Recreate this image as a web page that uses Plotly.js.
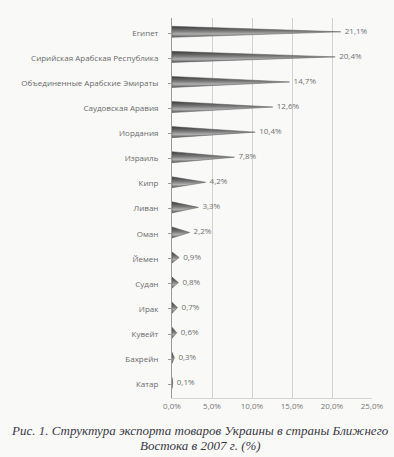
<!DOCTYPE html>
<html>
<head>
<meta charset="utf-8">
<script src="https://cdn.plot.ly/plotly-3.0.1.min.js"></script>
<style>html,body{margin:0;padding:0;background:#f9f9f8;}#chart{width:394px;height:457px;}</style>
</head>
<body>
<div id="chart"></div>
<script>
const countries = ["Египет","Сирийская Арабская Республика","Объединенные Арабские Эмираты","Саудовская Аравия","Иордания","Израиль","Кипр","Ливан","Оман","Йемен","Судан","Ирак","Кувейт","Бахрейн","Катар"];
const shares = [21.1, 20.4, 14.7, 12.6, 10.4, 7.8, 4.2, 3.3, 2.2, 0.9, 0.8, 0.7, 0.6, 0.3, 0.1];
const tickValsX = [0, 5, 10, 15, 20, 25];
const tickTextX = ["0,0%","5,0%","10,0%","15,0%","20,0%","25,0%"];

const fmt = v => '\u2002' + v.toFixed(1).replace('.', ',') + '%';
const idx = countries.map((c, i) => i);
const half = 0.22;

const traces = [];
countries.forEach((c, i) => {
  const v = shares[i];
  traces.push({
    type: 'scatter', mode: 'lines',
    x: [0, v, 0, 0], y: [i - half - 0.05, i - 0.05, i + half - 0.05, i - half - 0.05],
    fill: 'toself',
    fillgradient: {type: 'vertical', colorscale: [[0,'#5a5a5a'],[0.3,'#b0b0b0'],[0.55,'#7c7c7c'],[1,'#3a3a3a']]},
    line: {color: '#555', width: 0.5},
    hoverinfo: 'skip', showlegend: false
  });
});
traces.push({
  type: 'scatter', mode: 'text',
  x: shares, y: idx.map(i => i - 0.05),
  text: shares.map(fmt),
  textposition: 'middle right',
  textfont: {family: 'Open Sans, sans-serif', size: 8, color: '#707070'},
  hoverinfo: 'skip', showlegend: false, cliponaxis: false
});

const layout = {
  width: 394, height: 457,
  margin: {l: 172, r: 22, t: 18, b: 59},
  paper_bgcolor: '#f9f9f8', plot_bgcolor: '#f9f9f8',
  xaxis: {
    range: [0, 25], tickvals: tickValsX, ticktext: tickTextX,
    showgrid: true, gridcolor: '#d2d2d2', gridwidth: 1,
    zeroline: false, showline: true, linecolor: '#d5d5d5',
    tickfont: {family: 'Open Sans, sans-serif', size: 8, color: '#777'},
    ticks: '', fixedrange: true
  },
  yaxis: {
    range: [14.55, -0.6], tickvals: idx, ticktext: countries,
    showgrid: false, zeroline: false, showline: true, linecolor: '#9a9a9a', linewidth: 1,
    ticks: 'outside', ticklen: 3, tickcolor: '#9a9a9a', ticklabelstandoff: 8,
    tickfont: {family: 'Open Sans, sans-serif', size: 8, color: '#6a6a6a'},
    fixedrange: true
  },
  annotations: [
    {xref: 'paper', yref: 'paper', x: 0.14, y: -0.06, xanchor: 'center', yanchor: 'top', showarrow: false,
     text: '<i>Рис. 1. Структура экспорта товаров Украины в страны Ближнего</i>',
     font: {family: 'Liberation Serif, serif', size: 13, color: '#3a3a44'}},
    {xref: 'paper', yref: 'paper', x: 0.14, y: -0.10, xanchor: 'center', yanchor: 'top', showarrow: false,
     text: '<i>Востока в 2007 г. (%)</i>',
     font: {family: 'Liberation Serif, serif', size: 13, color: '#3a3a44'}}
  ]
};
Plotly.newPlot('chart', traces, layout, {displayModeBar: false, staticPlot: true});
</script>
</body>
</html>
